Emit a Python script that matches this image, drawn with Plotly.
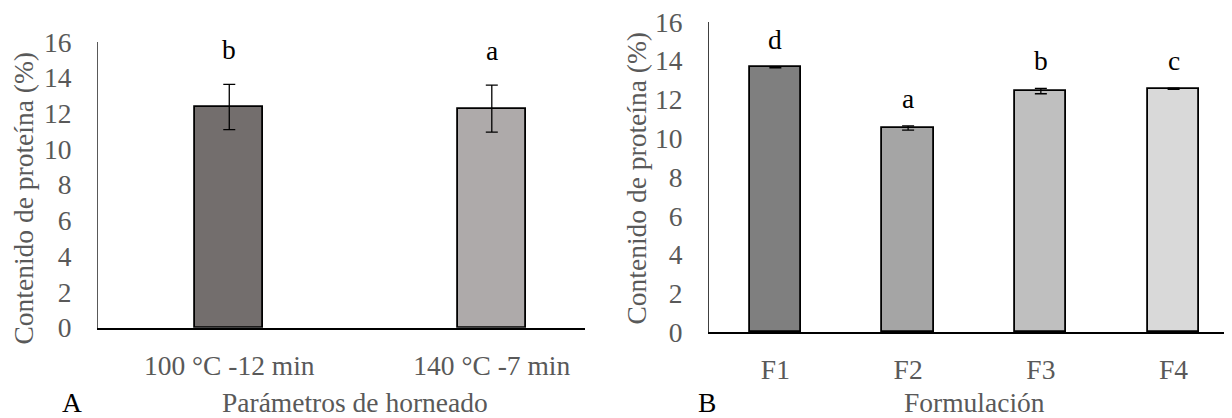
import plotly.graph_objects as go

# ---------------- data ----------------
bake_categories = ["100 °C -12 min", "140 °C -7 min"]
bake_values = [12.36, 12.27]
bake_errors = [1.27, 1.32]
bake_letters = ["b", "a"]

form_categories = ["F1", "F2", "F3", "F4"]
form_values = [13.66, 10.53, 12.44, 12.56]
form_errors = [0.03, 0.11, 0.14, 0.03]
form_letters = ["d", "a", "b", "c"]

y_ticks = [0, 2, 4, 6, 8, 10, 12, 14, 16]

# ---------------- style ----------------
PAGE_OFF = 8            # default body margin of the html page
W, H = 1232 - PAGE_OFF, 418 - PAGE_OFF
FONT = "Liberation Serif"
FS = 27.5
GREY = "#595959"
bake_colors = ["#736e6d", "#aeaaaa"]
form_colors = ["#7f7f7f", "#a5a5a5", "#bfbfbf", "#d9d9d9"]


def px_x(x):
    return (x - PAGE_OFF) / W


def px_y(y):
    return 1 - (y - PAGE_OFF) / H


fig = go.Figure()

fig.add_trace(go.Bar(
    x=bake_categories, y=bake_values, width=0.26,
    marker=dict(color=bake_colors, line=dict(color="black", width=1.8)),
    error_y=dict(type="data", array=bake_errors, color="black", thickness=1.3, width=6),
    xaxis="x", yaxis="y", showlegend=False,
))
fig.add_trace(go.Bar(
    x=form_categories, y=form_values, width=0.386,
    marker=dict(color=form_colors, line=dict(color="black", width=1.8)),
    error_y=dict(type="data", array=form_errors, color="black", thickness=1.3, width=6),
    xaxis="x2", yaxis="y2", showlegend=False,
))

tickfont = dict(family=FONT, size=FS, color=GREY)
common_y = dict(range=[0, 16], tickvals=y_ticks, ticks="", showgrid=False, zeroline=False,
                showline=True, linewidth=1.2, tickfont=tickfont, ticklabelstandoff=20,
                ticklabeloverflow="allow", fixedrange=True, automargin=False)
common_x = dict(type="category", ticks="", showgrid=False, zeroline=False, showline=True,
                linecolor="black", linewidth=2, tickfont=tickfont, ticklabelstandoff=12,
                ticklabeloverflow="allow", automargin=False)

fig.update_layout(
    width=W, height=H,
    margin=dict(l=0, r=0, t=0, b=0, autoexpand=False),
    paper_bgcolor="white", plot_bgcolor="white",
    font=dict(family=FONT),
    bargap=0,
    xaxis=dict(domain=[px_x(98), px_x(585)], range=[-0.5, 1.355], anchor="y", **common_x),
    yaxis=dict(domain=[px_y(327.7), px_y(42)], anchor="x", linecolor="#595959", **common_y),
    xaxis2=dict(domain=[px_x(709), 1.0], range=[-0.5, 3.44], anchor="y2", **common_x),
    yaxis2=dict(domain=[px_y(332.3), px_y(22)], anchor="x2", linecolor="#404040", **common_y),
)

ann = []
# significance letters
for c, v, e, t in zip(bake_categories, bake_values, bake_errors, bake_letters):
    ann.append(dict(x=c, y=v + e + 1.95, xref="x", yref="y", text=t, showarrow=False,
                    xanchor="center", yanchor="middle",
                    font=dict(family=FONT, size=FS, color="black")))
for c, v, e, t in zip(form_categories, form_values, form_errors, form_letters):
    ann.append(dict(x=c, y=v + e + 1.42, xref="x2", yref="y2", text=t, showarrow=False,
                    xanchor="center", yanchor="middle",
                    font=dict(family=FONT, size=FS, color="black")))

# axis titles and panel letters
ann += [
    dict(x=px_x(23), y=px_y(198.5), xref="paper", yref="paper", text="Contenido de proteína (%)",
         textangle=-90, showarrow=False, xanchor="center", yanchor="middle",
         font=dict(family=FONT, size=FS, color=GREY)),
    dict(x=px_x(636), y=px_y(178.5), xref="paper", yref="paper", text="Contenido de proteína (%)",
         textangle=-90, showarrow=False, xanchor="center", yanchor="middle",
         font=dict(family=FONT, size=FS, color=GREY)),
    dict(x=px_x(355), y=px_y(402), xref="paper", yref="paper", text="Parámetros de horneado",
         showarrow=False, xanchor="center", yanchor="middle",
         font=dict(family=FONT, size=FS, color=GREY)),
    dict(x=px_x(974.5), y=px_y(402), xref="paper", yref="paper", text="Formulación",
         showarrow=False, xanchor="center", yanchor="middle",
         font=dict(family=FONT, size=FS, color=GREY)),
    dict(x=px_x(72), y=px_y(402), xref="paper", yref="paper", text="A",
         showarrow=False, xanchor="center", yanchor="middle",
         font=dict(family=FONT, size=FS, color="black")),
    dict(x=px_x(707), y=px_y(402), xref="paper", yref="paper", text="B",
         showarrow=False, xanchor="center", yanchor="middle",
         font=dict(family=FONT, size=FS, color="black")),
]
fig.update_layout(annotations=ann)

fig.write_html("out.html")
